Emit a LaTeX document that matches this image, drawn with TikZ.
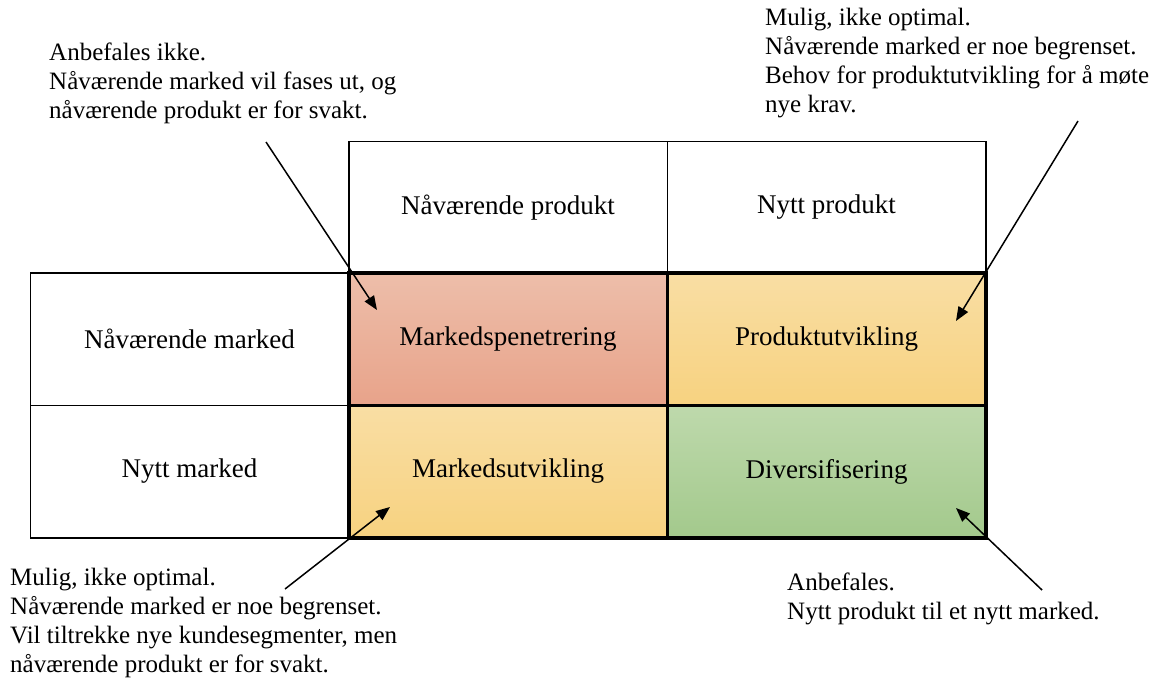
\documentclass[tikz,border=0pt]{standalone}
\usepackage{fontspec}
\setmainfont{Liberation Serif}
\usetikzlibrary{arrows.meta}
\begin{document}
\begin{tikzpicture}[x=1pt,y=-1pt,
  cell/.style={draw,line width=1.5pt,minimum width=318.5pt,minimum height=132.5pt,inner sep=0pt,outer sep=0pt,font=\rmfamily\fontsize{27}{32}\selectfont},
  strat/.style={cell,line width=3.5pt},
  note/.style={anchor=north west,align=left,inner sep=0pt,font=\rmfamily\fontsize{25}{29}\selectfont},
  pil/.style={line width=1.5pt,-{Triangle[length=14pt,width=11pt]}}]
\useasboundingbox (0,0) rectangle (1153,678);
% header row and column
\node[cell] (hdrA) at (508,207.5) {Nåværende produkt};
\node[cell] (hdrB) at (826.5,207.5) {Nytt produkt};
\node[cell] (rowA) at (189.5,339) {Nåværende marked};
\node[cell] (rowB) at (189.5,471.5) {Nytt marked};
% strategies
\node[strat,top color={rgb,255:red,237;green,190;blue,170},bottom color={rgb,255:red,232;green,163;blue,138}] (pen) at (508,339) {Markedspenetrering};
\node[strat,top color={rgb,255:red,249;green,222;blue,164},bottom color={rgb,255:red,247;green,210;blue,128}] (prod) at (826.5,339) {Produktutvikling};
\node[strat,top color={rgb,255:red,249;green,222;blue,164},bottom color={rgb,255:red,247;green,210;blue,128}] (mark) at (508,471.5) {Markedsutvikling};
\node[strat,top color={rgb,255:red,190;green,217;blue,172},bottom color={rgb,255:red,163;green,201;blue,140}] (div) at (826.5,471.5) {Diversifisering};
% comments
\node[note] (penNote) at (49,43) {Anbefales ikke.\\Nåværende marked vil fases ut, og\\nåværende produkt er for svakt.};
\node[note] (prodNote) at (765,8) {Mulig, ikke optimal.\\Nåværende marked er noe begrenset.\\Behov for produktutvikling for å møte\\nye krav.};
\node[note] (markNote) at (10,568) {Mulig, ikke optimal.\\Nåværende marked er noe begrenset.\\Vil tiltrekke nye kundesegmenter, men\\nåværende produkt er for svakt.};
\node[note] (divNote) at (787,573) {Anbefales.\\Nytt produkt til et nytt marked.};
% arrows
\coordinate (penTail) at (266,142);
\coordinate (penTip) at (377,310);
\coordinate (prodTail) at (1078,121);
\coordinate (prodTip) at (956,321);
\coordinate (markTail) at (285,589);
\coordinate (markTip) at (390,507);
\coordinate (divTail) at (1042,590);
\coordinate (divTip) at (956,508);
\draw[pil] (penTail) -- (penTip);
\draw[pil] (prodTail) -- (prodTip);
\draw[pil] (markTail) -- (markTip);
\draw[pil] (divTail) -- (divTip);
\end{tikzpicture}
\end{document}
